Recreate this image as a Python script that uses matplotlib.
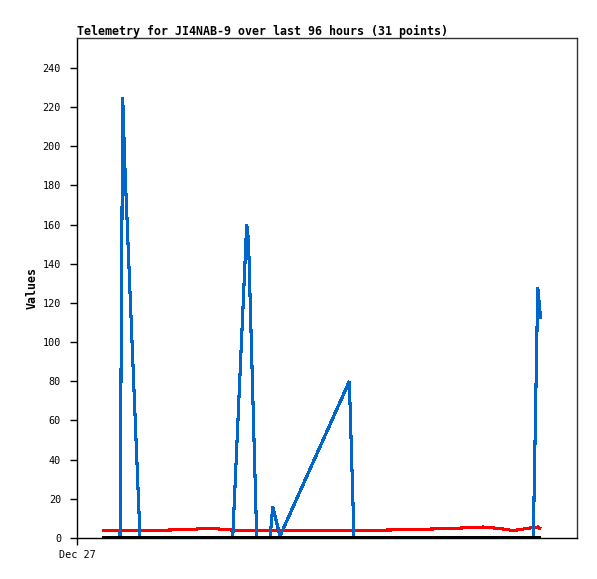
import matplotlib
matplotlib.use("Agg")
import matplotlib.pyplot as plt

# hours since Dec 27 00:00
hours = [4.81, 6.73, 8.27, 8.79, 9.23, 12.12, 16.92, 22.69, 25.00, 27.88,
         29.94, 32.63, 32.98, 34.56, 37.12, 37.63, 39.04, 52.37, 53.27, 58.27,
         64.42, 69.62, 75.00, 78.08, 81.35, 83.85, 86.35, 87.75, 88.60, 88.94,
         89.17]
blue_vals = [0, 0, 0, 225, 188, 0, 0, 0, 0, 0,
             0, 160, 152, 0, 0, 16, 1, 80, 0, 0,
             0, 0, 0, 0, 0, 0, 0, 0, 128, 118,
             112]
red_vals = [4, 4, 4, 4, 4, 4, 4, 4.5, 5, 4.5,
            4, 4, 4, 4, 4, 4, 4, 4, 4, 4,
            4.3, 4.7, 5.2, 5.6, 4.8, 3.8, 4.8, 5.4, 5.6, 5.0,
            4.8]
black_vals = [0] * 31

y_ticks = list(range(0, 241, 20))
x_tick_pos = [0]
x_tick_labels = ["Dec 27"]
title = "Telemetry for JI4NAB-9 over last 96 hours (31 points)"

fig = plt.figure(figsize=(5.97, 5.79), dpi=100)
ax = fig.add_axes([77/597, 41/579, 500/597, 500/579])

mono = "DejaVu Sans Mono"
common = dict(antialiased=False, solid_capstyle="butt", solid_joinstyle="miter")
ax.plot(hours, red_vals, color="#ff0000", lw=1.5, zorder=2, **common)
ax.plot(hours, blue_vals, color="#0066cc", lw=1.5, zorder=3, **common)
ax.plot(hours, black_vals, color="#000000", lw=1.7, zorder=4, **common)

ax.set_xlim(0, 96.15)
ax.set_ylim(0, 255.3)
ax.set_yticks(y_ticks)
ax.set_yticklabels([str(v) for v in y_ticks], fontfamily=mono, fontsize=7.3)
ax.set_xticks(x_tick_pos)
ax.set_xticklabels(x_tick_labels, fontfamily=mono, fontsize=7.3)
ax.tick_params(axis="y", length=5, width=1, pad=6.5, direction="out")
ax.tick_params(axis="x", length=5, width=1, pad=4, direction="out")

for s in ax.spines.values():
    s.set_color("#333333")
    s.set_linewidth(1)
ax.spines["bottom"].set_color("#000000")
ax.spines["left"].set_color("#000000")

ax.set_title(title, loc="left", fontfamily=mono, fontsize=8.35,
             fontweight="bold", pad=2)
ax.set_ylabel("Values", fontfamily=mono, fontsize=8.35, fontweight="bold",
              labelpad=3)

fig.savefig("out.png", dpi=100)
